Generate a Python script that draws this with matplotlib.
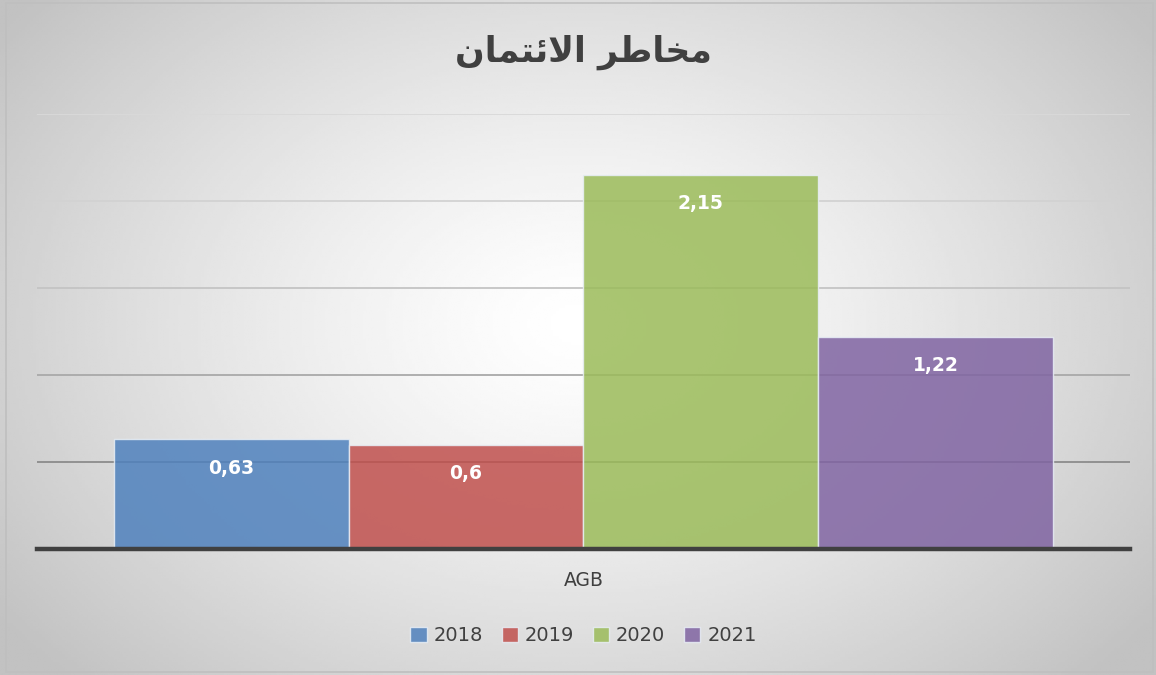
import matplotlib.pyplot as plt
import numpy as np

# data
category = "AGB"
years = ["2018", "2019", "2020", "2021"]
values = [0.63, 0.6, 2.15, 1.22]
labels = ["0,63", "0,6", "2,15", "1,22"]
colors = ["#4f81bd", "#c0504d", "#9bbb59", "#8064a2"]

# title in presentation forms, visual order (matplotlib has no arabic shaping)
title = "\uFEE5\uFE8E\uFEE4\uFE98\uFE8B\uFEFB\uFE8D \uFEAE\uFEC3\uFE8E\uFEA8\uFEE3"

fig = plt.figure(figsize=(11.56, 6.75), dpi=100)

# radial gradient background
bg = fig.add_axes([0, 0, 1, 1])
xx, yy = np.meshgrid(np.linspace(0, 1, 400), np.linspace(0, 1, 240))
r = np.sqrt(((xx - 0.5) / 0.62) ** 2 + ((yy - 0.52) / 0.75) ** 2)
shade = 1.0 - 0.24 * np.clip(r, 0, 1) ** 1.3
bg.imshow(shade, cmap="gray", vmin=0, vmax=1, extent=[0, 1, 0, 1],
          aspect="auto", interpolation="bilinear", origin="lower")
bg.add_patch(plt.Rectangle((0.005, 0.004), 0.992, 0.991, fill=False,
                           edgecolor="#bfbfbf", lw=1.2, transform=bg.transAxes))
bg.set_xlim(0, 1)
bg.set_ylim(0, 1)
bg.axis("off")

ax = fig.add_axes([0.032, 0.1867, 0.9455, 0.6444])
ax.patch.set_alpha(0)

grid_cols = ["#8c8c8c", "#a9a9a9", "#c4c4c4", "#d2d2d2", "#d9d9d9"]
for g, c in zip([0.5, 1.0, 1.5, 2.0, 2.5], grid_cols):
    ax.axhline(g, color=c, lw=1.3, zorder=1)

w = 0.2148
x0 = -1.5 * w
for i, (yr, v, lab, c) in enumerate(zip(years, values, labels, colors)):
    xc = x0 + i * w
    ax.bar(xc, v, width=w, color=c, alpha=0.85, edgecolor="#e8eef5",
           linewidth=1, label=yr, zorder=2)
    ax.text(xc, v - 0.165, lab, ha="center", va="center", color="white",
            fontsize=13.5, fontweight="bold", zorder=3)

ax.axhline(0, color="#404040", lw=3.2, zorder=4, clip_on=False)

ax.set_xlim(-0.5, 0.5)
ax.set_ylim(0, 2.5)
ax.set_xticks([0])
ax.set_xticklabels([category], fontsize=13.5, color="#404040")
ax.tick_params(axis="x", length=0, pad=16)
ax.set_yticks([])
for s in ax.spines.values():
    s.set_visible(False)

fig.text(0.505, 0.922, title, ha="center", va="center", fontsize=25,
         fontweight="bold", color="#404040", family=["DejaVu Sans"])

leg = ax.legend(loc="center", bbox_to_anchor=(0.5, -0.2), ncol=4,
                frameon=False, fontsize=14, handlelength=0.85,
                handleheight=0.85, handletextpad=0.35, columnspacing=0.95)
for t in leg.get_texts():
    t.set_color("#404040")

fig.savefig("out.png", dpi=100)
